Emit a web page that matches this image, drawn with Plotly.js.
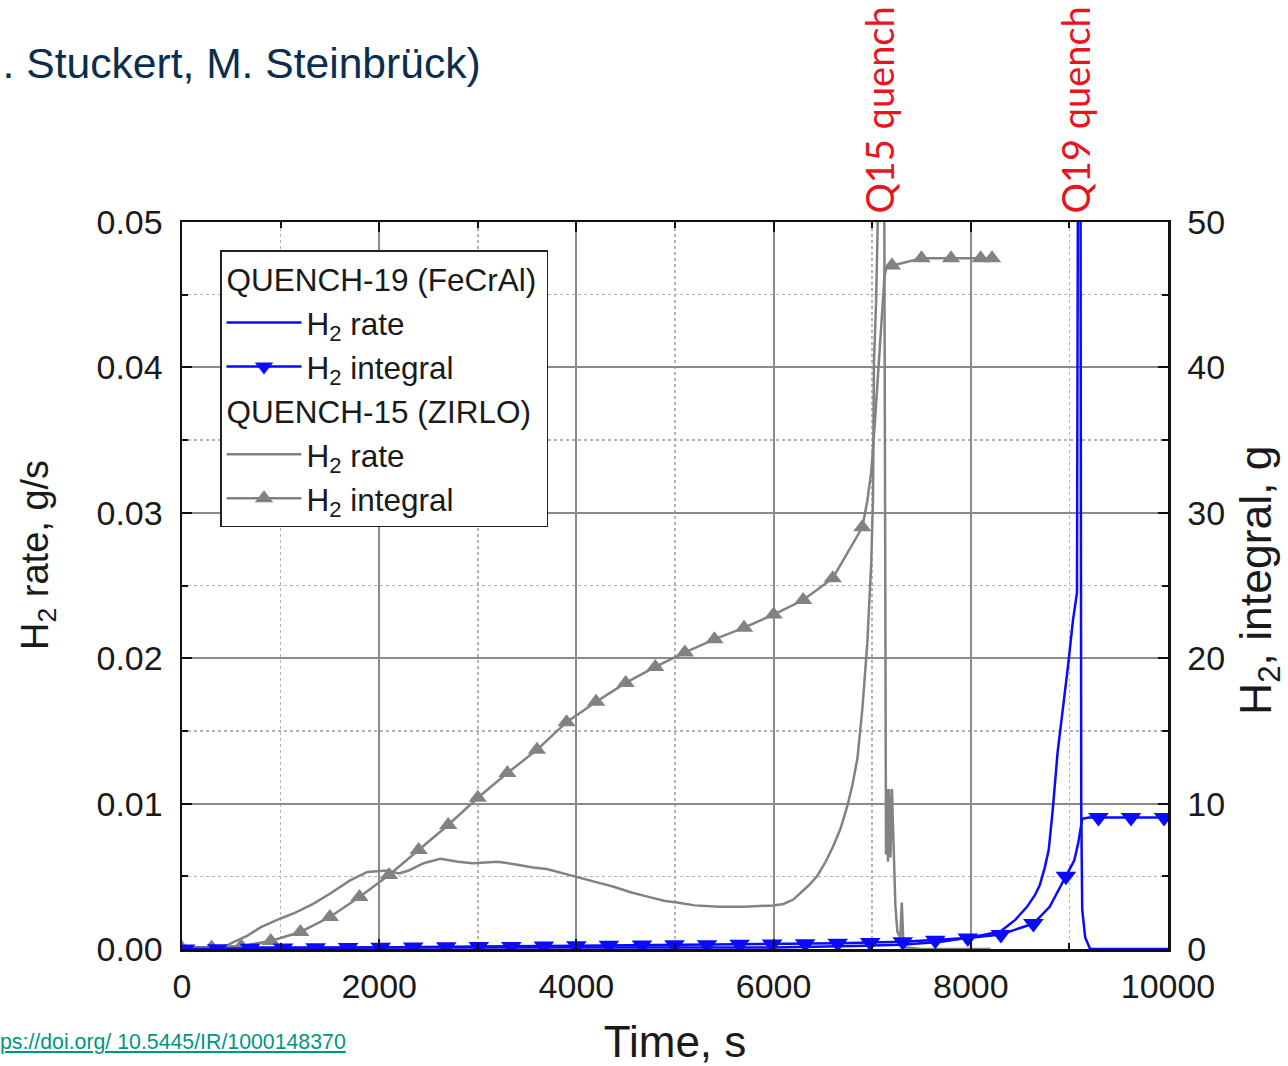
<!DOCTYPE html>
<html>
<head>
<meta charset="utf-8">
<script src="https://cdn.plot.ly/plotly-3.0.1.min.js"></script>
<style>
  html, body { margin: 0; padding: 0; background: #ffffff; }
  #chart { width: 1288px; height: 1066px; }
</style>
</head>
<body>
<div id="chart"></div>
<script>
// QUENCH-15 (ZIRLO): hydrogen release rate, g/s
const q15RateTime = [0, 200, 420, 500, 660, 800, 1000, 1150, 1330, 1500, 1700, 1880, 2080, 2200, 2300, 2450, 2620, 2800, 2950, 3200, 3400, 3560, 3700, 3860, 4040, 4200, 4370, 4550, 4720, 4900, 5020, 5200, 5450, 5700, 6000, 6100, 6200, 6280, 6360, 6440, 6520, 6600, 6680, 6750, 6800, 6850, 6900, 6950, 6990, 7008, 7018, 7040, 7059, 7080, 7120, 7140, 7150, 7160, 7170, 7185, 7200, 7215, 7235, 7255, 7285, 7300, 7315, 7340, 7500, 8200];
const q15Rate = [0, 0, 0.0001, 0.0004, 0.0009, 0.0015, 0.0021, 0.0025, 0.0031, 0.0038, 0.0047, 0.0053, 0.0054, 0.0052, 0.0054, 0.0059, 0.0062, 0.0060, 0.0059, 0.0060, 0.0058, 0.0056, 0.0055, 0.0052, 0.0049, 0.0046, 0.0043, 0.0039, 0.0036, 0.0033, 0.0032, 0.0030, 0.0029, 0.0029, 0.0030, 0.0031, 0.0034, 0.0039, 0.0044, 0.0050, 0.0059, 0.0070, 0.0083, 0.0099, 0.0113, 0.0131, 0.0165, 0.0210, 0.0265, 0.0309, 0.0403, 0.0446, 0.0497, 0.0580, 0.0580, 0.0065, 0.0110, 0.0060, 0.0110, 0.0063, 0.0110, 0.0075, 0.0030, 0.0012, 0.0008, 0.0032, 0.0006, 0.0001, 0, 0];

// QUENCH-15 (ZIRLO): cumulative hydrogen, g
const q15IntegralTime = [0, 300, 600, 900, 1200, 1500, 1800, 2100, 2400, 2700, 3000, 3300, 3600, 3900, 4200, 4500, 4800, 5100, 5400, 5700, 6000, 6300, 6600, 6900, 6950, 6990, 7030, 7070, 7100, 7125, 7145, 7200, 7500, 7800, 8100, 8215];
const q15Integral = [0.05, 0.1, 0.2, 0.55, 1.17, 2.2, 3.58, 5.09, 6.81, 8.53, 10.4, 12.1, 13.7, 15.6, 17.0, 18.3, 19.4, 20.4, 21.3, 22.1, 23.0, 24.0, 25.5, 29.0, 30.8, 32.8, 36.5, 40.5, 43.5, 46.3, 46.9, 47.0, 47.5, 47.5, 47.5, 47.5];
// symbol positions along the QUENCH-15 integral curve
const q15MarkTime = [0, 300, 600, 900, 1200, 1500, 1800, 2100, 2400, 2700, 3000, 3300, 3600, 3900, 4200, 4500, 4800, 5100, 5400, 5700, 6000, 6300, 6600, 6900, 7200, 7500, 7800, 8100, 8215];
const q15Mark = [0.05, 0.1, 0.2, 0.55, 1.17, 2.2, 3.58, 5.09, 6.81, 8.53, 10.4, 12.1, 13.7, 15.6, 17.0, 18.3, 19.4, 20.4, 21.3, 22.1, 23.0, 24.0, 25.5, 29.0, 47.0, 47.5, 47.5, 47.5, 47.5];

// QUENCH-19 (FeCrAl): hydrogen release rate, g/s
const q19RateTime = [0, 2000, 4000, 6000, 6800, 7300, 7700, 8000, 8300, 8450, 8570, 8650, 8700, 8750, 8790, 8830, 8880, 8940, 8985, 9036, 9077, 9088, 9112, 9120, 9130, 9160, 9210, 10000];
const q19Rate = [0.0001, 0.0001, 0.0001, 0.0001, 0.0002, 0.0003, 0.0005, 0.0008, 0.0012, 0.0020, 0.0029, 0.0037, 0.0044, 0.0056, 0.0068, 0.0095, 0.0135, 0.0168, 0.0194, 0.0226, 0.0245, 0.0580, 0.0580, 0.0098, 0.0027, 0.0008, 0, 0];

// QUENCH-19 (FeCrAl): cumulative hydrogen, g
const q19IntegralTime = [0, 1025, 2015, 3010, 4000, 4995, 5985, 6650, 7310, 7640, 7970, 8305, 8635, 8800, 8965, 9050, 9090, 9110, 9130, 9200, 9295, 10000];
const q19Integral = [0, 0.07, 0.12, 0.17, 0.22, 0.29, 0.34, 0.4, 0.5, 0.6, 0.75, 1.0, 1.75, 2.9, 5.0, 6.1, 7.3, 8.3, 8.95, 9.05, 9.05, 9.05];
const q19MarkTime = [30, 360, 690, 1025, 1355, 1685, 2015, 2345, 2680, 3010, 3340, 3670, 4000, 4330, 4665, 4995, 5325, 5655, 5985, 6320, 6650, 6980, 7310, 7640, 7970, 8305, 8635, 8965, 9295, 9625, 9960];
const q19Mark = [0, 0.02, 0.05, 0.07, 0.08, 0.1, 0.12, 0.13, 0.15, 0.17, 0.18, 0.2, 0.22, 0.25, 0.27, 0.29, 0.3, 0.32, 0.34, 0.36, 0.4, 0.45, 0.5, 0.6, 0.75, 1.0, 1.75, 5.0, 9.05, 9.05, 9.05];

// quench start labels
const quenchLabels = ['Q15 quench', 'Q19 quench'];
const quenchTimes = [7060, 9047];

const BLUE = '#0a0aff';
const GRAY = '#828282';
const FONT = 'Liberation Sans, Arial, sans-serif';
const TEXT = '#1a1a1a';
const H2 = 'H<sub>2</sub>';

const traces = [
  // legend: QUENCH-19
  { x: q19RateTime, y: q19Rate, type: 'scatter', mode: 'lines', name: H2 + ' rate',
    line: { color: BLUE, width: 2.5 }, legendgroup: 'q19',
    legendgrouptitle: { text: 'QUENCH-19 (FeCrAl)', font: { family: FONT, size: 31.5, color: TEXT } } },
  { x: [null], y: [null], type: 'scatter', mode: 'lines+markers', name: H2 + ' integral',
    line: { color: BLUE, width: 2.5 }, marker: { symbol: 'triangle-down', size: 16, color: BLUE },
    legendgroup: 'q19' },
  // legend: QUENCH-15
  { x: q15RateTime, y: q15Rate, type: 'scatter', mode: 'lines', name: H2 + ' rate',
    line: { color: GRAY, width: 2.5 }, legendgroup: 'q15',
    legendgrouptitle: { text: 'QUENCH-15 (ZIRLO)', font: { family: FONT, size: 31.5, color: TEXT } } },
  { x: [null], y: [null], type: 'scatter', mode: 'lines+markers', name: H2 + ' integral',
    line: { color: GRAY, width: 2.5 }, marker: { symbol: 'triangle-up', size: 16, color: GRAY },
    legendgroup: 'q15' },
  // integral curves on the right axis
  { x: q15IntegralTime, y: q15Integral, yaxis: 'y2', type: 'scatter', mode: 'lines',
    line: { color: GRAY, width: 2.5 }, showlegend: false, hoverinfo: 'skip' },
  { x: q15MarkTime, y: q15Mark, yaxis: 'y2', type: 'scatter', mode: 'markers',
    marker: { symbol: 'triangle-up', size: 16, color: GRAY }, showlegend: false },
  { x: q19IntegralTime, y: q19Integral, yaxis: 'y2', type: 'scatter', mode: 'lines',
    line: { color: BLUE, width: 2.5 }, showlegend: false, hoverinfo: 'skip' },
  { x: q19MarkTime, y: q19Mark, yaxis: 'y2', type: 'scatter', mode: 'markers',
    marker: { symbol: 'triangle-down', size: 18, color: BLUE }, showlegend: false }
];

const tickFont = { family: FONT, size: 34, color: TEXT };
const majorGrid = '#8a8a8a';
const minorGrid = '#b4b4b4';

const annotations = quenchLabels.map((txt, i) => ({
  text: txt, x: quenchTimes[i], xref: 'x', y: 1, yref: 'paper',
  xanchor: 'center', yanchor: 'bottom', yshift: 6, textangle: -90, showarrow: false,
  font: { family: 'Lato, Noto Sans, sans-serif', size: 38, color: '#e8141e' }
}));
// vertical axis titles
annotations.push({
  text: H2 + ' rate, g/s', xref: 'paper', yref: 'paper',
  x: (38 - 182) / 986, y: (949 - 555) / 727, xanchor: 'center', yanchor: 'middle',
  textangle: -90, showarrow: false, font: { family: FONT, size: 38, color: TEXT }
});
annotations.push({
  text: H2 + ', integral, g', xref: 'paper', yref: 'paper',
  x: (1259 - 182) / 986, y: (949 - 580) / 727, xanchor: 'center', yanchor: 'middle',
  textangle: -90, showarrow: false, font: { family: FONT, size: 44.5, color: TEXT }
});
annotations.push({
  text: '<u>ps://doi.org/ 10.5445/IR/1000148370</u>',
  xref: 'paper', yref: 'paper', x: -184 / 986, y: -(1042 - 949) / 727,
  xanchor: 'left', yanchor: 'middle', showarrow: false,
  font: { family: FONT, size: 21.3, color: '#00967f' }
});

const layout = {
  width: 1288, height: 1066,
  paper_bgcolor: '#ffffff', plot_bgcolor: '#ffffff',
  margin: { l: 182, r: 120, t: 222, b: 117 },
  showlegend: true,
  title: {
    text: '. Stuckert, M. Steinbrück)',
    xref: 'container', yref: 'container', x: 0.002, xanchor: 'left', y: 1 - 63 / 1066, yanchor: 'middle',
    font: { family: FONT, size: 42.6, color: '#0b2d4e' }
  },
  xaxis: {
    range: [0, 10000], dtick: 2000, tick0: 0, tickformat: 'd',
    showline: true, linecolor: '#111', linewidth: 2.5, mirror: 'ticks',
    ticks: 'inside', ticklen: 10, tickwidth: 2, tickcolor: '#111',
    showgrid: true, gridcolor: majorGrid, gridwidth: 2, zeroline: false,
    minor: { dtick: 1000, ticks: 'inside', ticklen: 6, tickcolor: '#111', showgrid: true, gridcolor: minorGrid, griddash: 'dot', gridwidth: 1.5 },
    tickfont: tickFont, ticklabelstandoff: 6,
    title: { text: 'Time, s', font: { family: FONT, size: 44, color: TEXT }, standoff: 27 }
  },
  yaxis: {
    range: [0, 0.05], dtick: 0.01, tick0: 0, tickformat: '.2f',
    showline: true, linecolor: '#111', linewidth: 2.5, mirror: true,
    ticks: 'inside', ticklen: 10, tickwidth: 2, tickcolor: '#111',
    showgrid: true, gridcolor: majorGrid, gridwidth: 2, zeroline: false,
    minor: { dtick: 0.005, ticks: 'inside', ticklen: 6, tickcolor: '#111', showgrid: true, gridcolor: minorGrid, griddash: 'dot', gridwidth: 1.5 },
    tickfont: tickFont, ticklabelstandoff: 10
  },
  yaxis2: {
    range: [0, 50], dtick: 10, tick0: 0, overlaying: 'y', side: 'right',
    showline: true, linecolor: '#111', linewidth: 2.5,
    ticks: 'inside', ticklen: 10, tickwidth: 2, tickcolor: '#111',
    showgrid: false, zeroline: false,
    minor: { dtick: 5, ticks: 'inside', ticklen: 6, tickcolor: '#111', showgrid: false },
    tickfont: tickFont, ticklabelstandoff: 10
  },
  legend: {
    x: (220 - 182) / 986, y: (949 - 250) / 727, xanchor: 'left', yanchor: 'top',
    bgcolor: '#ffffff', bordercolor: '#222', borderwidth: 1.5,
    font: { family: FONT, size: 31.5, color: TEXT },
    traceorder: 'grouped', tracegroupgap: 0, itemwidth: 75
  },
  annotations: annotations
};

Plotly.newPlot('chart', traces, layout, { displayModeBar: false, staticPlot: true });
</script>
</body>
</html>
